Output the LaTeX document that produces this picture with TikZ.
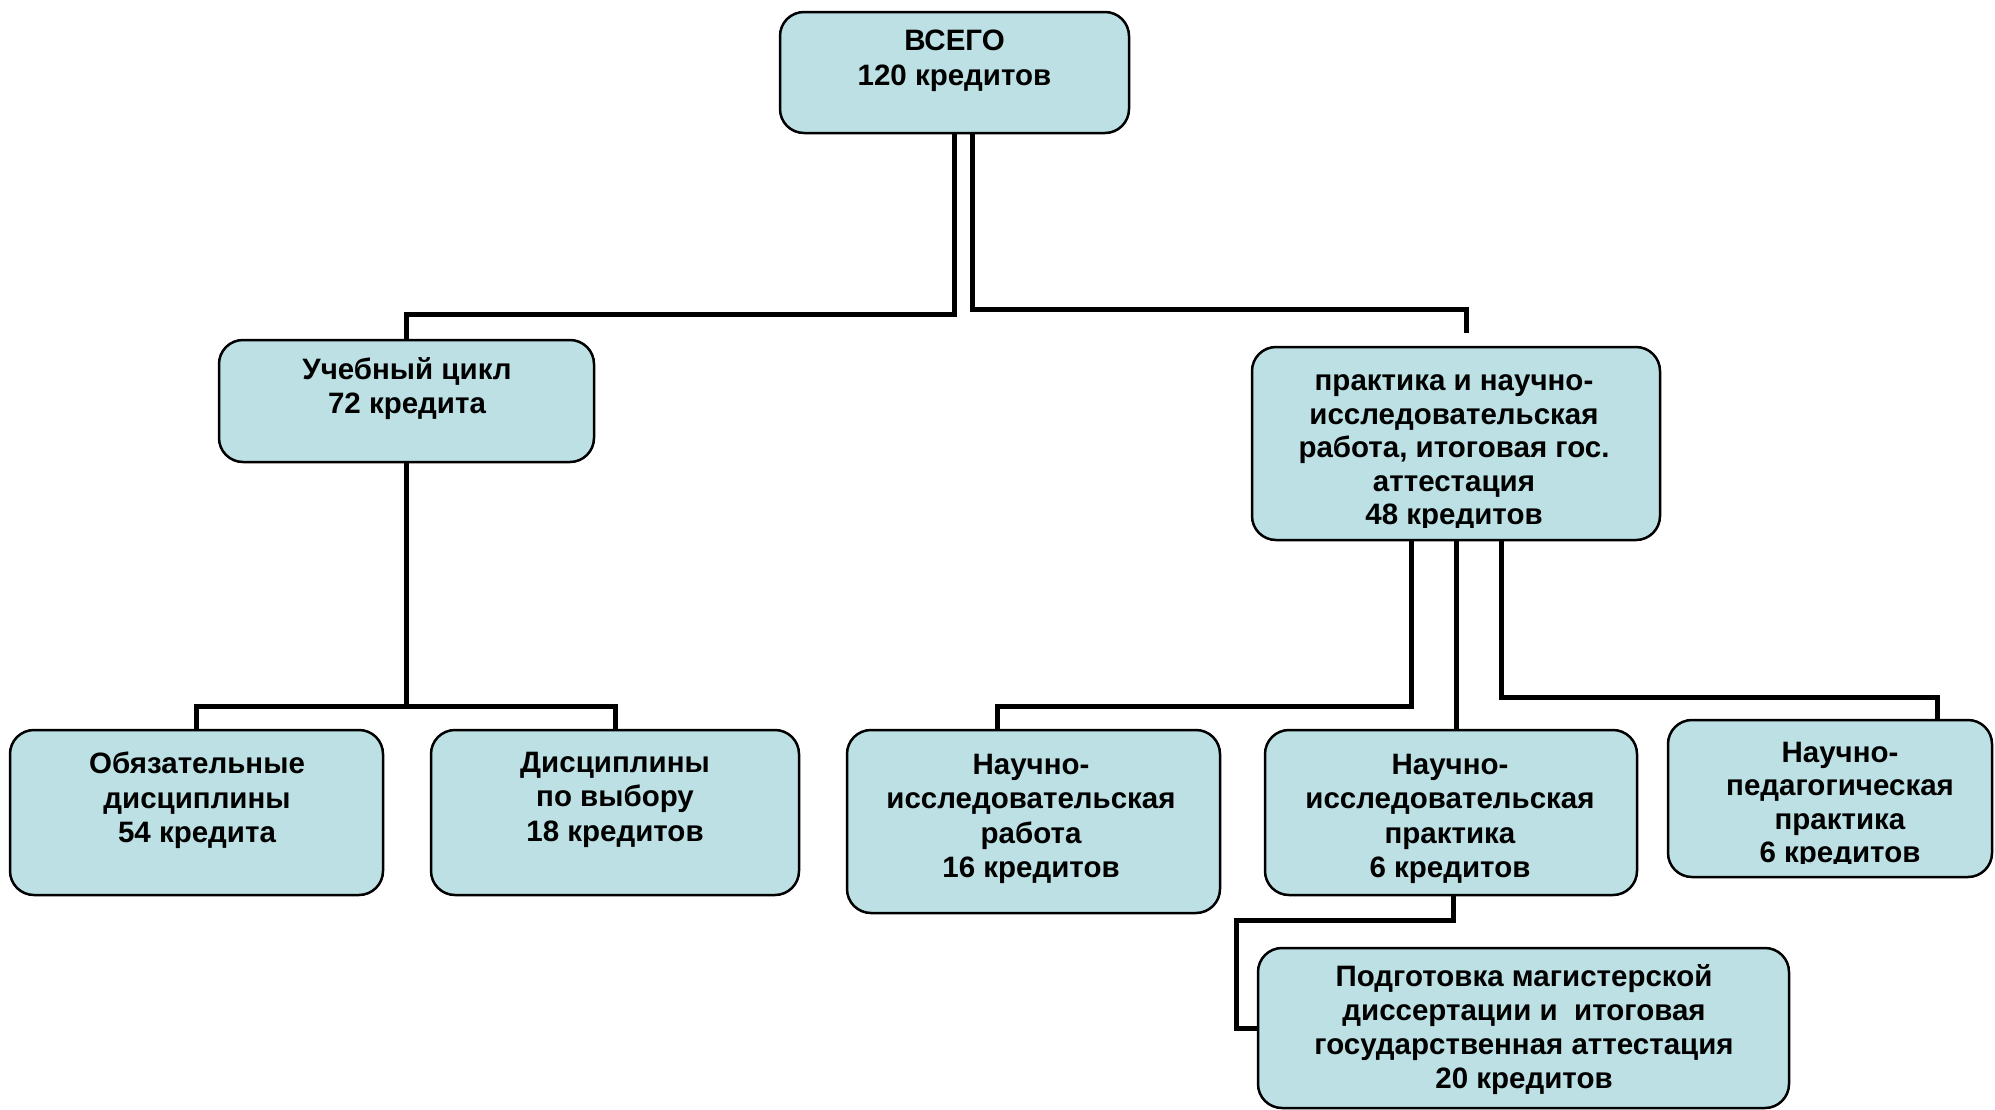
\documentclass[tikz,border=0pt]{standalone}
\usepackage{fontspec}
\setmainfont{Liberation Sans}
\definecolor{boxfill}{RGB}{188,224,227}
\begin{document}
\begin{tikzpicture}[x=1pt,y=-1pt,
  box/.style={draw=black, line width=2.5pt, fill=boxfill, rounded corners=24pt, inner sep=0pt, outer sep=0pt},
  txt/.style={anchor=north, inner sep=0pt, align=center, font=\fontsize{29.5}{34.5}\selectfont\bfseries, execute at begin node=\strut},
  conn/.style={draw=black, line width=5pt, line join=miter}]
\useasboundingbox (0,0) rectangle (1995,1109);
\fill[white] (0,0) rectangle (1995,1109);

\coordinate (rend) at (1466,333);
\coordinate (kink) at (1236,920);

% boxes
\node[box, minimum width=349pt, minimum height=121pt] (all) at (954.5,72.5) {};
\node[box, minimum width=375pt, minimum height=122pt] (uch) at (406.5,401) {};
\node[box, minimum width=408pt, minimum height=193pt] (prak) at (1456,443.5) {};
\node[box, minimum width=373pt, minimum height=165pt] (obl) at (196.5,812.5) {};
\node[box, minimum width=368pt, minimum height=165pt] (vyb) at (615,812.5) {};
\node[box, minimum width=373pt, minimum height=183pt] (nir) at (1033.5,821.5) {};
\node[box, minimum width=372pt, minimum height=165pt] (nip) at (1451,812.5) {};
\node[box, minimum width=324pt, minimum height=157pt] (ped) at (1830,798.5) {};
\node[box, minimum width=531pt, minimum height=160pt] (pod) at (1523.5,1028) {};

% connectors
\draw[conn] ([xshift=-0.5pt]all.south) -- ++(0,181) -| (uch.north);
\draw[conn] ([xshift=17.5pt]all.south) -- ++(0,176) -| (rend);
\draw[conn] (uch.south) -- ++(0,244);
\draw[conn] (obl.north) -- ++(0,-24) -| (vyb.north);
\draw[conn] ([xshift=-45pt]prak.south) -- ++(0,166) -| ([xshift=-36.5pt]nir.north);
\draw[conn] (prak.south) -- (prak.south |- nip.north);
\draw[conn] ([xshift=45pt]prak.south) -- ++(0,157) -| ([xshift=107pt]ped.north);
\draw[conn] ([xshift=2pt]nip.south) |- (kink) |- (pod.west);

% texts
\node[txt, font=\fontsize{29.5}{35.5}\selectfont\bfseries] (allT) at (954.5,29.65) {ВСЕГО\\120 кредитов};
\node[txt] (uchT) at (407,356.85) {Учебный цикл\\72 кредита};
\begin{scope}
\clip (1252,347) rectangle (1660,527);
\node[txt, font=\fontsize{29.5}{33.5}\selectfont\bfseries] (prakT) at (1454,374.5) {практика и научно-\\исследовательская\\работа, итоговая гос.\\аттестация\\48 кредитов};
\end{scope}
\node[txt] (oblT) at (197,751.85) {Обязательные\\дисциплины\\54 кредита};
\node[txt] (vybT) at (615,751.85) {Дисциплины\\по выбору\\18 кредитов};
\node[txt] (nirT) at (1031,753.85) {Научно-\\исследовательская\\работа\\16 кредитов};
\node[txt] (nipT) at (1450,753.85) {Научно-\\исследовательская\\практика\\6 кредитов};
\begin{scope}
\clip (1668,720) rectangle (1995,863);
\node[txt, font=\fontsize{29.5}{33.5}\selectfont\bfseries] (pedT) at (1840,741.55) {Научно-\\педагогическая\\практика\\6 кредитов};
\end{scope}
\node[txt, font=\fontsize{29.5}{34}\selectfont\bfseries] (podT) at (1524,964.2) {Подготовка магистерской\\диссертации и~ итоговая\\государственная аттестация\\20 кредитов};
\end{tikzpicture}
\end{document}
